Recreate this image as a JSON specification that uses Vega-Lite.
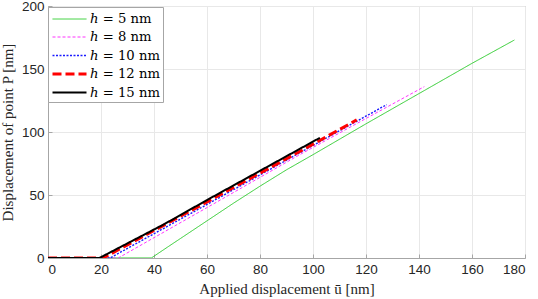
{
  "$schema": "https://vega.github.io/schema/vega-lite/v6.json",
  "width": 477,
  "height": 252,
  "autosize": {"type": "none"},
  "padding": {"left": 48, "top": 6, "right": 13, "bottom": 41},
  "background": "white",
  "config": {
    "view": {"stroke": "#a6a6a6", "strokeWidth": 1},
    "axis": {
      "labelFont": "Liberation Sans",
      "labelFontSize": 13.5,
      "labelColor": "#262626",
      "titleFont": "Liberation Serif",
      "titleFontSize": 15,
      "titleFontWeight": "normal",
      "titleColor": "#262626",
      "domainColor": "#a6a6a6",
      "tickColor": "#a6a6a6",
      "tickSize": -4,
      "gridColor": "#e8e8e8",
      "gridOpacity": 1
    },
    "legend": {
      "title": null,
      "orient": "none",
      "legendX": 0,
      "legendY": 1,
      "symbolType": "M-1,0H3",
      "symbolSize": 289,
      "labelFont": "DejaVu Serif",
      "labelFontSize": 13.2,
      "labelColor": "#000000",
      "labelOffset": 19,
      "fillColor": "white",
      "strokeColor": "#a6a6a6",
      "padding": 3,
      "rowPadding": 2
    }
  },
  "data": {
    "values": [
      {"h": "ℎ = 5 nm", "x": 0, "y": 0},
      {"h": "ℎ = 5 nm", "x": 39, "y": 0},
      {"h": "ℎ = 5 nm", "x": 45, "y": 8.5},
      {"h": "ℎ = 5 nm", "x": 50, "y": 15.5},
      {"h": "ℎ = 5 nm", "x": 60, "y": 29.5},
      {"h": "ℎ = 5 nm", "x": 70, "y": 43.5},
      {"h": "ℎ = 5 nm", "x": 80, "y": 57},
      {"h": "ℎ = 5 nm", "x": 90, "y": 70},
      {"h": "ℎ = 5 nm", "x": 100, "y": 82},
      {"h": "ℎ = 5 nm", "x": 120, "y": 106.5},
      {"h": "ℎ = 5 nm", "x": 140, "y": 130.5},
      {"h": "ℎ = 5 nm", "x": 160, "y": 154.5},
      {"h": "ℎ = 5 nm", "x": 176, "y": 173},
      {"h": "ℎ = 8 nm", "x": 0, "y": 0},
      {"h": "ℎ = 8 nm", "x": 26.5, "y": 0},
      {"h": "ℎ = 8 nm", "x": 60, "y": 40},
      {"h": "ℎ = 8 nm", "x": 95, "y": 82},
      {"h": "ℎ = 8 nm", "x": 142, "y": 136},
      {"h": "ℎ = 10 nm", "x": 0, "y": 0},
      {"h": "ℎ = 10 nm", "x": 23.4, "y": 0},
      {"h": "ℎ = 10 nm", "x": 60, "y": 42.5},
      {"h": "ℎ = 10 nm", "x": 95, "y": 83.5},
      {"h": "ℎ = 10 nm", "x": 127.8, "y": 121.7},
      {"h": "ℎ = 12 nm", "x": 0, "y": 0},
      {"h": "ℎ = 12 nm", "x": 20.8, "y": 0},
      {"h": "ℎ = 12 nm", "x": 60, "y": 44.5},
      {"h": "ℎ = 12 nm", "x": 95, "y": 84.5},
      {"h": "ℎ = 12 nm", "x": 116.5, "y": 109.6},
      {"h": "ℎ = 15 nm", "x": 0, "y": 0},
      {"h": "ℎ = 15 nm", "x": 19.4, "y": 0},
      {"h": "ℎ = 15 nm", "x": 44, "y": 27},
      {"h": "ℎ = 15 nm", "x": 60, "y": 46},
      {"h": "ℎ = 15 nm", "x": 102.6, "y": 95.4}
    ]
  },
  "mark": {"type": "line", "clip": true},
  "encoding": {
    "x": {
      "field": "x",
      "type": "quantitative",
      "scale": {"domain": [0, 180], "nice": false},
      "axis": {
        "values": [0, 20, 40, 60, 80, 100, 120, 140, 160, 180],
        "title": "Applied displacement ū [nm]",
        "labelPadding": 8,
        "titlePadding": 6
      }
    },
    "y": {
      "field": "y",
      "type": "quantitative",
      "scale": {"domain": [0, 200], "nice": false},
      "axis": {
        "values": [0, 50, 100, 150, 200],
        "title": "Displacement of point P [nm]",
        "labelPadding": 8,
        "titlePadding": 6
      }
    },
    "color": {
      "field": "h",
      "type": "nominal",
      "scale": {
        "domain": ["ℎ = 5 nm", "ℎ = 8 nm", "ℎ = 10 nm", "ℎ = 12 nm", "ℎ = 15 nm"],
        "range": ["#2ecc2e", "#ff33ff", "#1a1aff", "#ff0000", "#000000"]
      }
    },
    "strokeDash": {
      "field": "h",
      "type": "nominal",
      "scale": {
        "domain": ["ℎ = 5 nm", "ℎ = 8 nm", "ℎ = 10 nm", "ℎ = 12 nm", "ℎ = 15 nm"],
        "range": [[1, 0], [3, 2], [2, 1.5], [9, 4], [1, 0]]
      }
    },
    "strokeWidth": {
      "field": "h",
      "type": "nominal",
      "scale": {
        "type": "ordinal",
        "domain": ["ℎ = 5 nm", "ℎ = 8 nm", "ℎ = 10 nm", "ℎ = 12 nm", "ℎ = 15 nm"],
        "range": [1, 1, 1.4, 3, 2]
      }
    }
  }
}
